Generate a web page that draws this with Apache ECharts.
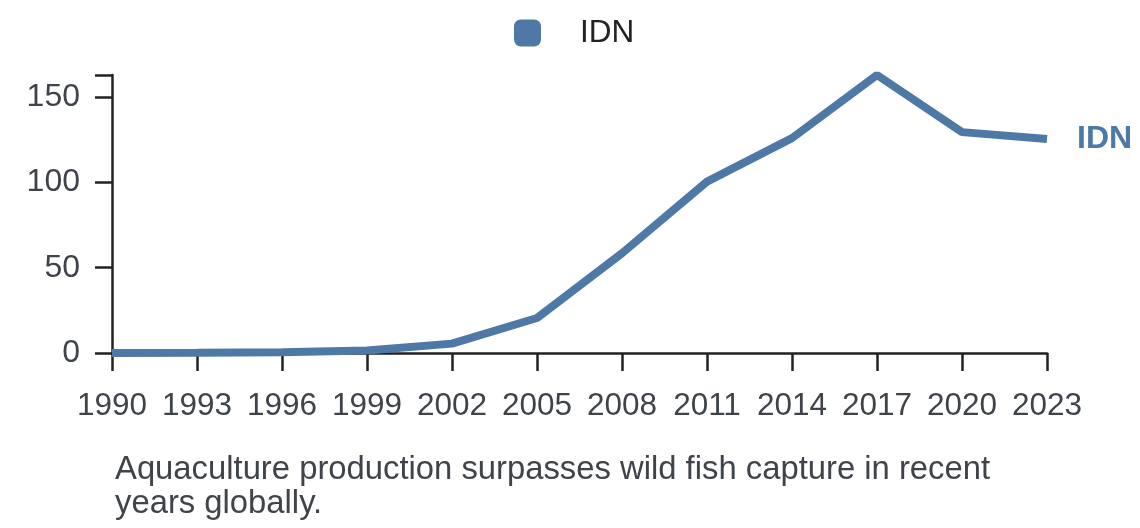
<!DOCTYPE html>
<html>
<head>
<meta charset="utf-8">
<script src="https://cdn.jsdelivr.net/npm/echarts@6/dist/echarts.min.js"></script>
<style>
    html, body { margin: 0; padding: 0; background: #fff; }
    #mychart { width: 1140px; height: 528px; }
</style>
</head>
<body>
<div id="mychart"></div>
<script>
var years = ['1990', '1993', '1996', '1999', '2002', '2005', '2008', '2011', '2014', '2017', '2020', '2023'];
var idnValues = [0, 0.2, 0.5, 1.5, 5.5, 20.5, 58.5, 100.5, 126, 163, 129.5, 125.5];
var yTicks = [0, 50, 100, 150];

var font = 'Liberation Sans, Arial, sans-serif';
var lineColor = '#4e79a7';

var chart = echarts.init(document.getElementById('mychart'));

var option = {
    animation: false,
    textStyle: {
        fontFamily: font
    },
    title: {
        text: 'Aquaculture production surpasses wild fish capture in recent\nyears globally.',
        left: 110,
        top: 448,
        textStyle: {
            fontFamily: font,
            fontSize: 32.8,
            fontWeight: 'normal',
            color: '#3f444a',
            lineHeight: 34
        }
    },
    legend: {
        top: 12,
        left: 509,
        icon: 'roundRect',
        itemWidth: 27,
        itemHeight: 27,
        data: ['IDN'],
        textStyle: {
            fontFamily: font,
            fontSize: 31.5,
            color: '#222',
            padding: [0, 0, 0, 34]
        }
    },
    grid: {
        left: 112,
        right: 93,
        top: 75,
        bottom: 175
    },
    xAxis: {
        type: 'category',
        boundaryGap: false,
        data: years,
        axisLine: {
            lineStyle: { color: '#222', width: 2.5 }
        },
        axisTick: {
            length: 18,
            alignWithLabel: true,
            lineStyle: { color: '#222', width: 2.5 }
        },
        axisLabel: {
            margin: 37,
            fontSize: 31.5,
            color: '#3f444a',
            fontFamily: font,
            interval: 0
        }
    },
    yAxis: {
        type: 'value',
        min: 0,
        max: 'dataMax',
        interval: 50,
        splitLine: { show: false },
        axisLine: {
            show: true,
            lineStyle: { color: '#222', width: 2.5 }
        },
        axisTick: {
            show: true,
            length: 17,
            lineStyle: { color: '#222', width: 2.5 }
        },
        axisLabel: {
            margin: 32,
            fontSize: 32,
            color: '#3f444a',
            fontFamily: font,
            formatter: function (v) {
                return yTicks.indexOf(v) >= 0 ? String(v) : '';
            }
        }
    },
    series: [
        {
            name: 'IDN',
            type: 'line',
            data: idnValues,
            showSymbol: false,
            symbol: 'none',
            lineStyle: { color: lineColor, width: 8 },
            itemStyle: { color: lineColor },
            endLabel: {
                show: true,
                formatter: '{a}',
                distance: 30,
                fontSize: 32,
                fontWeight: 'bold',
                color: lineColor,
                fontFamily: font
            }
        }
    ]
};

chart.setOption(option);
</script>
</body>
</html>
